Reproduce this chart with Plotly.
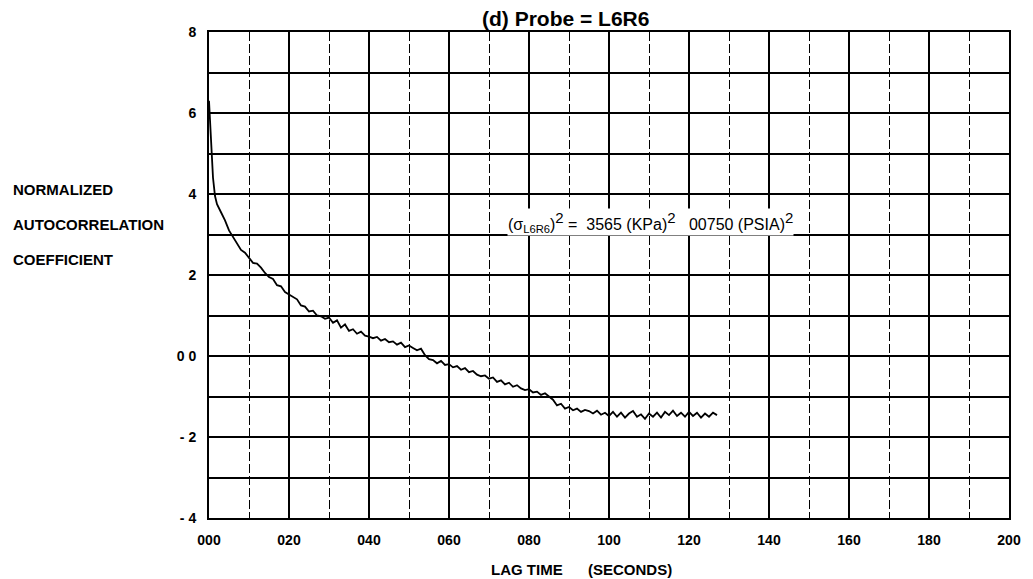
import plotly.graph_objects as go

# ---- data ----
lag = [0, 0.5, 1, 1.5, 2, 3, 4, 5, 6, 7, 8, 9, 10, 11, 12, 13, 14, 15, 16, 17, 18, 19, 20,
       21, 22, 23, 24, 25, 26, 27, 28, 29, 30, 31, 32, 33, 34, 35, 36, 37, 38, 39, 40,
       41, 42, 43, 44, 45, 46, 47, 48, 49, 50, 51, 52, 53, 54, 55, 56, 57, 58, 59, 60,
       61, 62, 63, 64, 65, 66, 67, 68, 69, 70, 71, 72, 73, 74, 75, 76, 77, 78, 79, 80,
       81, 82, 83, 84, 85, 86, 87, 88, 89, 90, 91, 92, 93, 94, 95, 96, 97, 98, 99, 100,
       101, 102, 103, 104, 105, 106, 107, 108, 109, 110, 111, 112, 113, 114, 115, 116,
       117, 118, 119, 120, 121, 122, 123, 124, 125, 126, 127]
coef = [6.3, 5.3, 4.4, 3.95, 3.75, 3.55, 3.35, 3.1, 2.95, 2.8, 2.62, 2.55, 2.42, 2.3, 2.28,
        2.18, 2.05, 1.95, 1.9, 1.75, 1.72, 1.58, 1.52,
        1.45, 1.4, 1.25, 1.22, 1.1, 1.12, 1.0, 0.98, 0.92, 0.95, 0.82, 0.88, 0.7, 0.78,
        0.62, 0.66, 0.55, 0.6, 0.5, 0.48,
        0.44, 0.47, 0.38, 0.42, 0.34, 0.36, 0.28, 0.33, 0.22, 0.26, 0.2, 0.14, 0.18, 0.02,
        -0.08, -0.1, -0.18, -0.12, -0.22, -0.2,
        -0.28, -0.25, -0.34, -0.3, -0.4, -0.37, -0.46, -0.5, -0.48, -0.56, -0.53, -0.64,
        -0.6, -0.7, -0.66, -0.76, -0.72, -0.8, -0.84, -0.82,
        -0.9, -0.88, -0.96, -0.92, -1.0, -1.08, -1.22, -1.18, -1.3, -1.26, -1.34, -1.3,
        -1.38, -1.33, -1.36, -1.42, -1.35, -1.45, -1.4, -1.48,
        -1.38, -1.5, -1.4, -1.52, -1.42, -1.36, -1.5, -1.44, -1.55, -1.42, -1.5, -1.4,
        -1.52, -1.38, -1.46, -1.35,
        -1.48, -1.4, -1.5, -1.38, -1.48, -1.4, -1.52, -1.42, -1.5, -1.4, -1.46]

x_ticks = [0, 20, 40, 60, 80, 100, 120, 140, 160, 180, 200]
x_labels = ["000", "020", "040", "060", "080", "100", "120", "140", "160", "180", "200"]
x_minor = [10, 30, 50, 70, 90, 110, 130, 150, 170, 190]
y_ticks = [8, 6, 4, 2, 0, -2, -4]
y_labels = ["8", "6", "4", "2", "0 0", "- 2", "- 4"]
y_minor = [7, 5, 3, 1, -1, -3]

title_text = "(d) Probe = L6R6"
ylabel_lines = ["NORMALIZED", "AUTOCORRELATION", "COEFFICIENT"]
xlabel_parts = ["LAG TIME", "(SECONDS)"]
SUP = '<sup><span style="font-size:15px">2</span></sup>'
note_text = ("(σ<sub>L6R6</sub>)" + SUP + " =  3565 (KPa)" + SUP +
             "   00750 (PSIA)" + SUP)

FONT = "Liberation Sans"

fig = go.Figure()
fig.add_trace(go.Scatter(x=lag, y=coef, mode="lines",
                         line=dict(color="black", width=1.8),
                         showlegend=False, hoverinfo="skip"))

# page body has an 8px margin on the left/top, so the figure starts at (8, 8)
fig.update_layout(
    width=1025, height=571,
    margin=dict(l=201, r=20, t=24, b=61),
    paper_bgcolor="white", plot_bgcolor="white",
    showlegend=False,
    font=dict(family=FONT, color="black"),
)

fig.update_xaxes(
    range=[0, 200], tickvals=x_ticks, ticktext=x_labels,
    showgrid=True, gridcolor="black", gridwidth=1.6,
    minor=dict(tickvals=x_minor, showgrid=True, gridcolor="black",
               gridwidth=1.4, griddash="9px,3px", ticks=""),
    showline=True, linecolor="black", linewidth=2, mirror=True,
    ticks="outside", ticklen=8, tickcolor="rgba(0,0,0,0)",
    tickfont=dict(family=FONT, size=14, color="black", weight="bold"),
    zeroline=False,
)
fig.update_yaxes(
    range=[-4, 8], tickvals=y_ticks, ticktext=y_labels,
    showgrid=True, gridcolor="black", gridwidth=1.8,
    minor=dict(tickvals=y_minor, showgrid=True, gridcolor="black",
               gridwidth=1.8, ticks=""),
    showline=True, linecolor="black", linewidth=2, mirror=True,
    ticks="outside", ticklen=8, tickcolor="rgba(0,0,0,0)",
    tickfont=dict(family=FONT, size=14, color="black", weight="bold"),
    zeroline=False,
)

# title
fig.add_annotation(text=title_text, xref="paper", yref="paper",
                   x=0.445, y=1.0, xanchor="center", yanchor="bottom", yshift=0,
                   showarrow=False,
                   font=dict(family=FONT, size=21, color="black", weight="bold"))

# left stacked axis label
for txt, yp in zip(ylabel_lines, [0.675, 0.603, 0.531]):
    fig.add_annotation(text=txt, xref="paper", yref="paper", x=-0.2475, y=yp,
                       xanchor="left", yanchor="middle", showarrow=False,
                       font=dict(family=FONT, size=15, color="black", weight="bold"))

# x axis label
for txt, xp in zip(xlabel_parts, [(490 - 209) / 804, (588 - 209) / 804]):
    fig.add_annotation(text=txt, xref="paper", yref="paper", x=xp, y=-0.105,
                       xanchor="left", yanchor="middle", showarrow=False,
                       font=dict(family=FONT, size=15, color="black", weight="bold"))

# variance note
fig.add_annotation(text=note_text, xref="x", yref="y", x=74.4, y=3.3,
                   xanchor="left", yanchor="middle", showarrow=False,
                   bgcolor="white", borderpad=0,
                   font=dict(family=FONT, size=16, color="black"))

fig.write_html("out.html")
